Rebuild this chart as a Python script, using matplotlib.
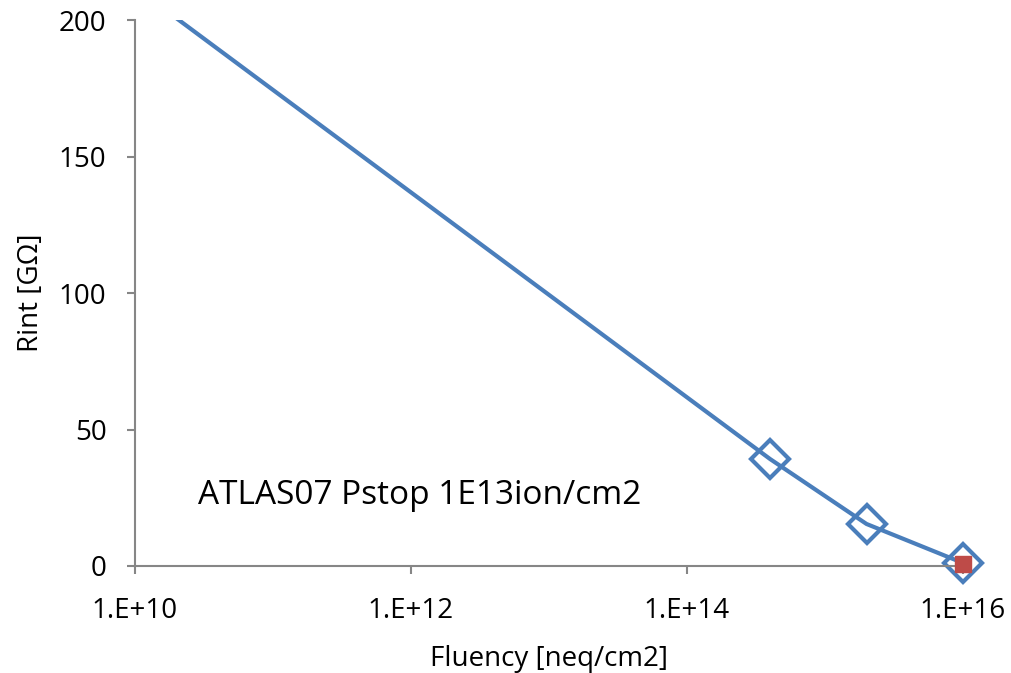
import numpy as np
import matplotlib.pyplot as plt

plt.rcParams['font.family'] = ['Open Sans', 'DejaVu Sans']

# Data
fluency = [1e10, 4e14, 2e15, 1e16]
rint = [212, 39.2, 15.4, 1.1]
fluency_ref = [1e16]
rint_ref = [0.7]

fig = plt.figure(figsize=(10.11, 6.73), dpi=100)
ax = fig.add_axes([0.1335, 0.159, 0.819, 0.811])

# line is clipped at the top, markers are not clipped at the right edge
ax.plot(fluency, rint, color='#4A7EBB', linewidth=3)
ax.plot(fluency[1:], rint[1:], linestyle='none', marker='D', markersize=19,
        markerfacecolor='none', markeredgecolor='#4A7EBB', markeredgewidth=3,
        clip_on=False)
ax.plot(fluency_ref, rint_ref, linestyle='none', marker='s', markersize=11.5,
        color='#BE4B48', zorder=3, clip_on=False)

ax.set_xscale('log')
ax.set_xlim(1e10, 1e16)
ax.set_ylim(0, 200)
ax.set_xticks([1e10, 1e12, 1e14, 1e16])
ax.set_xticklabels(['1.E+10', '1.E+12', '1.E+14', '1.E+16'])
ax.minorticks_off()
ax.set_yticks([0, 50, 100, 150, 200])

for side in ['top', 'right']:
    ax.spines[side].set_visible(False)
for side in ['left', 'bottom']:
    ax.spines[side].set_color('#868686')
    ax.spines[side].set_linewidth(1.5)
ax.tick_params(direction='out', length=5.5, width=1.5, color='#868686', labelsize=20)
ax.tick_params(axis='y', pad=15)
ax.tick_params(axis='x', pad=17)

ax.set_xlabel('Fluency [neq/cm2]', fontsize=20, labelpad=14)
ax.set_ylabel('Rint [GΩ]', fontsize=20, labelpad=10)

ax.text(0.076, 0.13, 'ATLAS07 Pstop 1E13ion/cm2', transform=ax.transAxes,
        fontsize=24, va='center', ha='left')

fig.savefig('out.png', dpi=100)
